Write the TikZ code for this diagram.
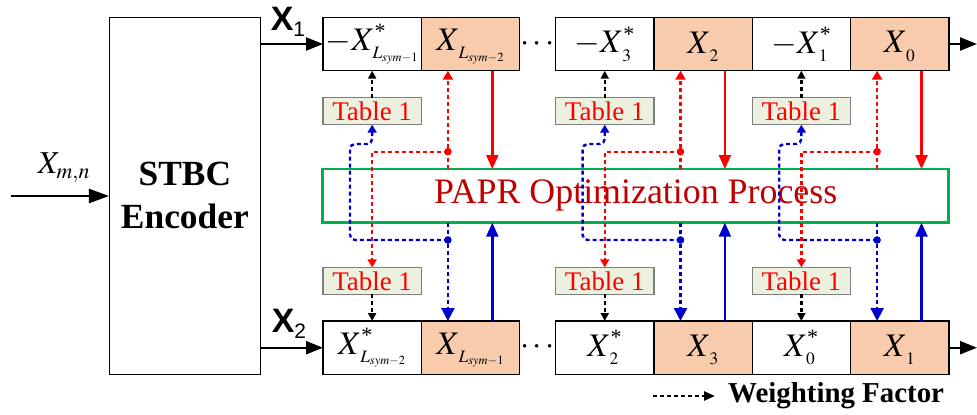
\documentclass[tikz,border=0pt]{standalone}
\usepackage{mathptmx}
\usepackage{fontspec}
\setmainfont{Liberation Serif}
\setsansfont{Liberation Sans}
\DeclareMathSizes{33}{33}{17.5}{12.5}
\DeclareMathSizes{32}{32}{22}{16}
\usetikzlibrary{arrows.meta,calc}
\definecolor{cellorange}{HTML}{F8CBAD}
\definecolor{tabfill}{HTML}{EBF1DE}
\definecolor{tabdraw}{HTML}{7F7F7F}
\definecolor{paprgreen}{HTML}{00B050}
\definecolor{paprred}{HTML}{C00000}
\definecolor{myblue}{HTML}{0000CC}
\newcommand{\cst}{\mbox{\fontsize{22}{22}\selectfont *}}
\tikzset{
  cellw/.style={draw, line width=1.4bp, minimum width=98.3bp, minimum height=53.4bp, inner sep=0pt, outer sep=0pt, fill=white, font=\fontsize{33}{40}\selectfont},
  cello/.style={cellw, fill=cellorange},
  tabbox/.style={draw=tabdraw, fill=tabfill, line width=1.4bp, minimum width=98.3bp, minimum height=27bp, inner sep=0pt, outer sep=0pt, text=red, font=\fontsize{27}{27}\selectfont},
  dsh/.style={dash pattern=on 4bp off 3bp, line width=2.4bp},
  wf/.style={dsh, draw=black, -{Triangle[length=8bp,width=8bp]}},
  reddash/.style={dsh, draw=red, -{Triangle[length=9bp,width=10bp]}},
  bluedash/.style={dsh, draw=myblue, -{Triangle[length=9bp,width=9bp]}},
  bluedashbig/.style={dsh, draw=myblue, -{Triangle[length=13bp,width=13bp]}},
  redsolid/.style={line width=2.4bp, draw=red, -{Triangle[length=14bp,width=12bp]}},
  bluesolid/.style={line width=2.4bp, draw=myblue, -{Triangle[length=14bp,width=12bp]}},
  sig/.style={line width=2.2bp, -{Triangle[length=17bp,width=13bp]}},
  dotdot/.style={font=\fontsize{33}{33}\selectfont, inner sep=0pt},
}
\begin{document}
\begin{tikzpicture}[x=1bp,y=-1bp]
\useasboundingbox (0,0) rectangle (977,414);

% encoder
\node[draw, line width=1bp, minimum width=151.7bp, minimum height=357bp, inner sep=0pt, outer sep=0pt,
      align=center, font=\bfseries\fontsize{35.5}{43}\selectfont] (enc) at (184.85,195.8) {STBC\\Encoder};
\coordinate (inp) at (11,196);
\draw[sig, -{Triangle[length=20bp,width=14bp]}] (inp) -- (enc.west |- inp);
\node[font=\fontsize{32}{32}\selectfont, inner sep=0pt] (xmn) at (64,168) {$X_{m,n}$};

% top row
\node[cellw] (w1t) at (372.15,44) {$-X^{\cst}_{\mkern2mu L_{sym-1}}$};
\node[cello] (o1t) at (470.45,44) {$X^{\vphantom{\cst}}_{\mkern3mu L_{sym-2}}$};
\node[cellw] (w2t) at (604.75,44) {$-X^{\cst}_{\mkern3mu 3}$};
\node[cello] (o2t) at (703.05,44) {$X^{\vphantom{\cst}}_{\mkern3mu 2}$};
\node[cellw] (w3t) at (801.35,44) {$-X^{\cst}_{\mkern3mu 1}$};
\node[cello] (o3t) at (899.65,44) {$X^{\vphantom{\cst}}_{\mkern3mu 0}$};
% bottom row
\node[cellw] (w1b) at (372.15,347.7) {$X^{\cst}_{\mkern3mu L_{sym-2}}$};
\node[cello] (o1b) at (470.45,347.7) {$X^{\vphantom{\cst}}_{\mkern3mu L_{sym-1}}$};
\node[cellw] (w2b) at (604.75,347.7) {$X^{\cst}_{\mkern3mu 2}$};
\node[cello] (o2b) at (703.05,347.7) {$X^{\vphantom{\cst}}_{\mkern3mu 3}$};
\node[cellw] (w3b) at (801.35,347.7) {$X^{\cst}_{\mkern3mu 0}$};
\node[cello] (o3b) at (899.65,347.7) {$X^{\vphantom{\cst}}_{\mkern3mu 1}$};

\node[dotdot] (dt) at (537.5,44) {$\cdots$};
\node[dotdot] (db) at (537.5,347.7) {$\cdots$};

% tables
\foreach \i in {1,2,3}{
  \node[tabbox] (t\i t) at (w\i t |- 0,111.2) {Table 1};
  \node[tabbox] (t\i b) at (w\i t |- 0,280.8) {Table 1};
}

% PAPR box
\node[draw=paprgreen, line width=2.6bp, minimum width=626bp, minimum height=53.7bp, inner sep=0pt, outer sep=0pt,
      text=paprred, font=\fontsize{36}{36}\selectfont] (papr) at (635.7,195.85) {PAPR Optimization Process};

% encoder outputs
\draw[sig] (enc.east |- w1t.west) -- (w1t.west);
\draw[sig] (enc.east |- w1b.west) -- (w1b.west);
\node[font=\sffamily\fontsize{34}{34}\selectfont, inner sep=0pt] (x1l) at (288,22) {\textbf{X}\raisebox{-6bp}{\fontsize{21}{21}\selectfont 1}};
\node[font=\sffamily\fontsize{34}{34}\selectfont, inner sep=0pt] (x2l) at (289,324) {\textbf{X}\raisebox{-6bp}{\fontsize{21}{21}\selectfont 2}};
\coordinate (outt) at (977,44);
\coordinate (outb) at (977,347.7);
\draw[sig] (o3t.east) -- (outt);
\draw[sig] (o3b.east) -- (outb);

\foreach \i in {1,2,3}{
  % red dashed from PAPR up to orange cell, branch to lower table
  \coordinate (rd\i) at ($(o\i t.south west)+(26.6,0)$);
  \draw[reddash] (rd\i |- papr.north) -- (rd\i);
  \coordinate (rdot\i) at ($(rd\i)+(0,81)$);
  \draw[reddash, -{Triangle[length=8bp,width=9bp]}] (rdot\i) -| (t\i b.north);
  \fill[red] (rdot\i) circle (3.8bp);
  % red solid from orange cell to PAPR
  \coordinate (rs\i) at ($(o\i t.south west)+(71,0)$);
  \draw[redsolid] (rs\i) -- (rs\i |- papr.north);
  % blue dashed from PAPR down to lower orange cell, branch to upper table
  \coordinate (bd\i) at ($(o\i b.north west)+(26.6,0)$);
  \draw[bluedashbig] (bd\i |- papr.south) -- (bd\i);
  \coordinate (bdot\i) at ($(bd\i)+(0,-81)$);
  \coordinate (bl\i) at ($(w\i t.south west)+(27,73.3)$);
  \draw[bluedash, -{Triangle[length=8bp,width=9bp]}, rounded corners=5bp] (bdot\i) -| (bl\i) -| (t\i t.south);
  \fill[myblue] (bdot\i) circle (3.8bp);
  % blue solid from lower orange cell to PAPR
  \coordinate (bs\i) at ($(o\i b.north west)+(71,0)$);
  \draw[bluesolid] (bs\i) -- (bs\i |- papr.south);
  % weighting factors
  \draw[wf] (t\i t.north) -- (w\i t.south);
  \draw[wf] (t\i b.south) -- (w\i b.north);
}

% legend
\coordinate (lg) at (653,396);
\node[anchor=west, inner sep=0pt, font=\bfseries\fontsize{29}{29}\selectfont] (lgt) at (728,396) {Weighting Factor};
\draw[dsh, -{Triangle[length=11bp,width=9bp]}, shorten >=13bp] (lg) -- (lgt.west);
\end{tikzpicture}
\end{document}
